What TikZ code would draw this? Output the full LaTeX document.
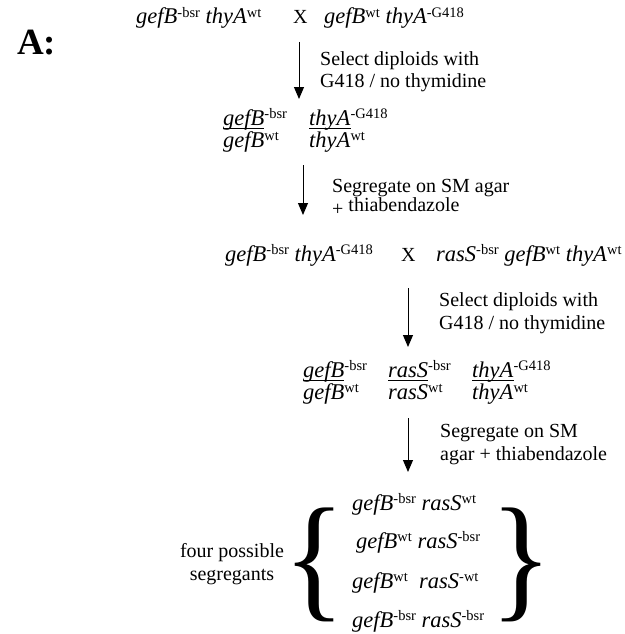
\documentclass[tikz,border=0pt]{standalone}
\usepackage{fontspec}
\setmainfont{Liberation Serif}
\usepackage{graphicx}
\usetikzlibrary{arrows.meta, positioning}

% gene name with upright superscript allele
\newcommand{\gsup}[1]{\raisebox{6.5pt}{\fontsize{14.5}{14.5}\selectfont\upshape #1}}
\newcommand{\gul}[1]{\leavevmode\setbox0\hbox{#1}\rlap{\rule[-3.5pt]{\wd0}{0.9pt}}\box0}
\newcommand{\gn}[2]{\textit{#1}\gsup{#2}}
\newcommand{\gnu}[2]{\gul{\textit{#1}}\gsup{#2}}

\begin{document}
\begin{tikzpicture}[x=1pt, y=-1pt,
  txt/.style={anchor=base west, inner sep=0pt, font=\fontsize{20}{22.5}\selectfont, align=left},
  gene/.style={anchor=base west, inner sep=0pt, font=\fontsize{22.5}{22}\selectfont},
  brc/.style={inner sep=0pt, font=\fontsize{20}{22}\selectfont},
  arr/.style={-{Triangle[length=12pt, width=10pt]}, line width=1pt}]
\useasboundingbox (0,0) rectangle (624,634);
\node[anchor=base west, inner sep=0pt, font=\fontsize{37}{37}\selectfont\bfseries] (lbl) at (17,55) {A:};
% first cross
\node[gene] (p1) at (136,24) {\gn{gefB}{-bsr} \gn{thyA}{wt}};
\node[txt] (x1) at (293,24) {X};
\node[gene] (p2) at (324,24) {\gn{gefB}{wt} \gn{thyA}{-G418}};
\coordinate (a1s) at (299,42);
\coordinate (a1e) at (299,99);
\draw[arr] (a1s) -- (a1e);
\node[txt] (sel1) at (320,88) {Select diploids with\\G418 / no thymidine};
% first diploid
\node[gene] (dip1) at (223,125) {\begin{tabular}[t]{@{}p{86pt}@{}l@{}}
  \gnu{gefB}{-bsr} & \gnu{thyA}{-G418}\\
  \gn{gefB}{wt} & \gn{thyA}{wt}
\end{tabular}};
\coordinate (a2s) at (303,165);
\coordinate (a2e) at (303,215);
\draw[arr] (a2s) -- (a2e);
\node[txt] (seg1) at (332,215) {Segregate on SM agar\\+ \raisebox{4pt}{thiabendazole}};
% second cross
\node[gene] (p3) at (225,261) {\gn{gefB}{-bsr} \gn{thyA}{-G418}};
\node[txt] (x2) at (401,261) {X};
\node[gene] (p4) at (436,261) {\gn{rasS}{-bsr} \gn{gefB}{wt} \gn{thyA}{wt}};
\coordinate (a3s) at (408,288);
\coordinate (a3e) at (408,347);
\draw[arr] (a3s) -- (a3e);
\node[txt] (sel2) at (439,329) {Select diploids with\\G418 / no thymidine};
% second diploid
\node[gene] (dip2) at (303,377) {\begin{tabular}[t]{@{}p{85pt}@{}p{84pt}@{}l@{}}
  \gnu{gefB}{-bsr} & \gnu{rasS}{-bsr} & \gnu{thyA}{-G418}\\
  \gn{gefB}{wt} & \gn{rasS}{wt} & \gn{thyA}{wt}
\end{tabular}};
\coordinate (a4s) at (408,418);
\coordinate (a4e) at (408,472);
\draw[arr] (a4s) -- (a4e);
\node[txt] (seg2) at (440,460) {Segregate on SM\\agar + thiabendazole};
% segregants
\node[gene] (g1) at (352,510) {\gn{gefB}{-bsr} \gn{rasS}{wt}};
\node[gene] (g2) at (356,548) {\gn{gefB}{wt} \gn{rasS}{-bsr}};
\node[gene] (g3) at (352,588) {\gn{gefB}{wt}\ \ \gn{rasS}{-wt}};
\node[gene] (g4) at (352,627) {\gn{gefB}{-bsr} \gn{rasS}{-bsr}};
\node[brc] (lb) at (315,565) {\resizebox*{62pt}{114pt}{\{}};
\node[brc] (rb) at (521,565) {\resizebox*{62pt}{114pt}{\}}};
\node[txt, align=center, anchor=base] (four) at (232,580) {four possible\\segregants};
\end{tikzpicture}
\end{document}
